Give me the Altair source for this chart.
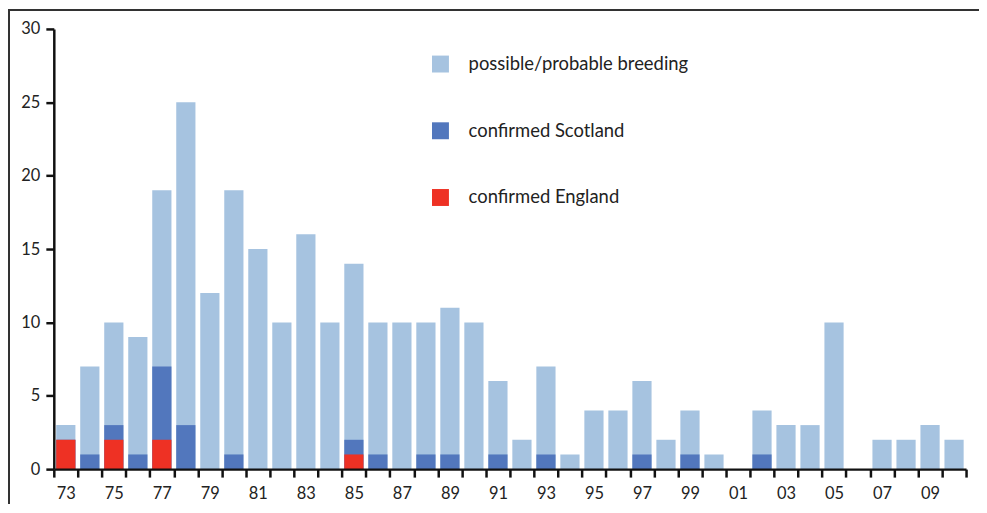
import altair as alt
import pandas as pd

years = ["73", "74", "75", "76", "77", "78", "79", "80", "81", "82",
         "83", "84", "85", "86", "87", "88", "89", "90", "91", "92",
         "93", "94", "95", "96", "97", "98", "99", "00", "01", "02",
         "03", "04", "05", "06", "07", "08", "09", "10"]
total = [3, 7, 10, 9, 19, 25, 12, 19, 15, 10,
         16, 10, 14, 10, 10, 10, 11, 10, 6, 2,
         7, 1, 4, 4, 6, 2, 4, 1, 0, 4,
         3, 3, 10, 0, 2, 2, 3, 2]
scotland = [0, 1, 1, 1, 5, 3, 0, 1, 0, 0,
            0, 0, 1, 1, 0, 1, 1, 0, 1, 0,
            1, 0, 0, 0, 1, 0, 1, 0, 0, 1,
            0, 0, 0, 0, 0, 0, 0, 0]
england = [2, 0, 2, 0, 2, 0, 0, 0, 0, 0,
           0, 0, 1, 0, 0, 0, 0, 0, 0, 0,
           0, 0, 0, 0, 0, 0, 0, 0, 0, 0,
           0, 0, 0, 0, 0, 0, 0, 0]
series = ["possible/probable breeding", "confirmed Scotland", "confirmed England"]
colors = ["#A6C3E0", "#5277BD", "#EE3124"]
y_ticks = [0, 5, 10, 15, 20, 25, 30]

rows = []
for i, yr in enumerate(years):
    rows.append({"year": yr, "series": series[0], "top": total[i], "ord": 0})
    rows.append({"year": yr, "series": series[1], "top": england[i] + scotland[i], "ord": 1})
    rows.append({"year": yr, "series": series[2], "top": england[i], "ord": 2})
df = pd.DataFrame(rows)
df = df[df["top"] > 0]

FONT = "Lato"
W, H = 975, 497

bars = alt.Chart(df).mark_bar(width=alt.RelativeBandSize(0.8)).encode(
    x=alt.X("year:N", sort=years,
            scale=alt.Scale(domain=years, range=[46, 962], paddingInner=0, paddingOuter=0),
            axis=alt.Axis(title=None, labelAngle=0, tickBand="extent", offset=-(H - 462),
                          labelExpr="parseInt(datum.value) % 2 == 1 ? datum.value : ''",
                          domainColor="#111", domainWidth=2.5, tickColor="#111", tickWidth=2.5,
                          tickSize=8, labelPadding=9, labelFontSize=16.5, labelFont=FONT,
                          labelColor="#222", grid=False, zindex=1)),
    y=alt.Y("top:Q", stack=None,
            scale=alt.Scale(domain=[0, 30], range=[462, 20], nice=False),
            axis=alt.Axis(title=None, values=y_ticks, offset=-46, domainColor="#111",
                          domainWidth=2.5, tickColor="#111", tickWidth=2.5, tickSize=8,
                          labelPadding=6, labelFontSize=16.5, labelFont=FONT, labelColor="#222",
                          grid=False, zindex=1)),
    color=alt.Color("series:N", scale=alt.Scale(domain=series, range=colors),
                    legend=alt.Legend(title=None, orient="none", legendX=425, legendY=46,
                                      symbolType="square", symbolSize=289, symbolStrokeWidth=0,
                                      labelFontSize=18.5, labelFont=FONT, labelColor="#222",
                                      labelLimit=0, labelOffset=19, rowPadding=48, padding=0)),
    order=alt.Order("ord:Q"),
)

top_edge = alt.Chart(df).mark_rule(color="#333", strokeWidth=1.5).encode(
    x=alt.value(0), x2=alt.value(W), y=alt.value(0.75))
left_edge = alt.Chart(df).mark_rule(color="#333", strokeWidth=1.5).encode(
    x=alt.value(0.75), y=alt.value(0), y2=alt.value(H))

chart = alt.layer(bars, top_edge, left_edge).properties(
    width=W, height=H, autosize=alt.AutoSizeParams(type="none"), padding=0
).configure_view(stroke=None)

chart.save("out.html", embed_options={"renderer": "svg", "actions": False})
